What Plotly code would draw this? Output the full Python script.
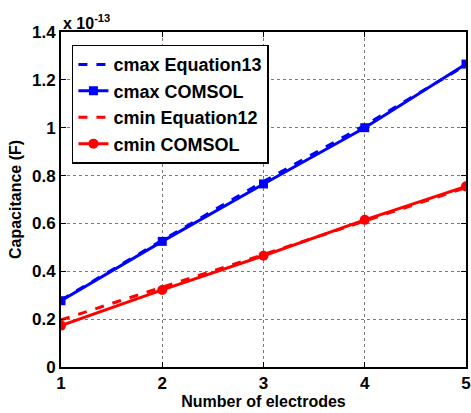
import plotly.graph_objects as go

electrodes = [1, 2, 3, 4, 5]
cmax_eq13 = [0.28, 0.530, 0.775, 1.010, 1.262]
cmax_comsol = [0.277, 0.525, 0.765, 1.000, 1.266]
cmin_eq12 = [0.197, 0.332, 0.470, 0.610, 0.750]
cmin_comsol = [0.173, 0.322, 0.465, 0.615, 0.755]
y_ticks = [0, 0.2, 0.4, 0.6, 0.8, 1.0, 1.2, 1.4]
y_ticklabels = ["0", "0.2", "0.4", "0.6", "0.8", "1", "1.2", "1.4"]

FONT = "Liberation Sans, Arial, sans-serif"

fig = go.Figure()
fig.add_trace(go.Scatter(x=electrodes, y=cmax_eq13, mode="lines", name="<b>cmax Equation13</b>",
                         line=dict(color="#0000ff", width=3, dash="dash")))
fig.add_trace(go.Scatter(x=electrodes, y=cmax_comsol, mode="lines+markers", name="<b>cmax COMSOL</b>",
                         line=dict(color="#0000ff", width=3),
                         marker=dict(symbol="square", size=9, color="#0000ff")))
fig.add_trace(go.Scatter(x=electrodes, y=cmin_eq12, mode="lines", name="<b>cmin Equation12</b>",
                         line=dict(color="#ff0000", width=3, dash="dash")))
fig.add_trace(go.Scatter(x=electrodes, y=cmin_comsol, mode="lines+markers", name="<b>cmin COMSOL</b>",
                         line=dict(color="#ff0000", width=3),
                         marker=dict(symbol="circle", size=10, color="#ff0000")))

axis_common = dict(showline=True, linecolor="black", linewidth=2, mirror="ticks",
                   ticks="inside", ticklen=5, tickwidth=1, tickcolor="black",
                   showgrid=True, gridcolor="#7a7a7a", griddash="dot", gridwidth=1,
                   zeroline=False, automargin=False,
                   tickfont=dict(family=FONT, size=17, color="black"))

fig.update_layout(
    width=471, height=413,
    margin=dict(l=61, r=5, t=32, b=46),
    paper_bgcolor="white", plot_bgcolor="white",
    font=dict(family=FONT, color="black"),
    xaxis=dict(range=[1, 5], tickvals=electrodes, ticktext=[f"<b>{v}</b>" for v in electrodes],
               title=dict(text="<b>Number of electrodes</b>", font=dict(family=FONT, size=16), standoff=2),
               **axis_common),
    yaxis=dict(range=[0, 1.4], tickvals=y_ticks, ticktext=[f"<b>{t}</b>" for t in y_ticklabels],
               title=dict(text="<b>Capacitance (F)</b>", font=dict(family=FONT, size=16), standoff=6),
               **axis_common),
    legend=dict(x=0.027, y=0.962, xanchor="left", yanchor="top",
                bgcolor="white", bordercolor="black", borderwidth=1.5,
                font=dict(family=FONT, size=18, color="black"),
                tracegroupgap=0, itemwidth=30),
    showlegend=True,
)
fig.add_annotation(xref="paper", yref="paper", x=0, y=1, xanchor="left", yanchor="bottom",
                   text="<b>x 10<sup>-13</sup></b>", showarrow=False,
                   font=dict(family=FONT, size=16, color="black"), yshift=-2)

fig.write_html("out.html", config={"displayModeBar": False},
               post_script="document.body.style.margin='0';document.body.style.overflow='hidden';")
